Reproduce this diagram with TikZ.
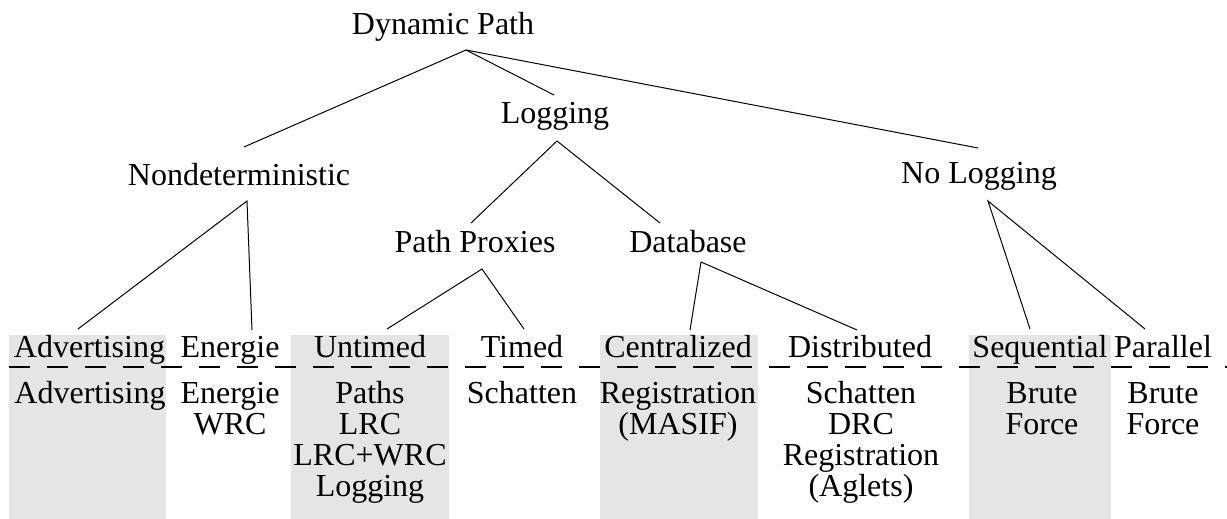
\documentclass[tikz,border=0pt]{standalone}
\usepackage{fontspec}
\setmainfont{Liberation Serif}
\newcommand\lnstrut{\vrule height 23pt depth 8pt width 0pt}
\tikzset{
  lbl/.style={font=\fontsize{32}{31}\selectfont, inner sep=0pt, anchor=base},
  col/.style={font=\fontsize{32}{31}\selectfont, inner sep=0pt, anchor=north, align=center},
  edge/.style={line width=1pt},
  shade/.style={fill=black!10, draw=none},
  sep/.style={line width=2.5pt, dash pattern=on 21pt off 17pt},
}
\begin{document}
\begin{tikzpicture}[x=1pt,y=-1pt]
\useasboundingbox (0,0) rectangle (1227,519);
% shaded columns
\fill[shade] (9,335) rectangle (166,519);
\fill[shade] (291,335) rectangle (449,519);
\fill[shade] (600,335) rectangle (758,519);
\fill[shade] (969,335) rectangle (1111,519);
% dashed separator
\coordinate (sepL) at (9,367);
\coordinate (sepR) at (1227,367);
\draw[sep] (sepL) -- (sepR);
% tree labels
\node[lbl] (dp) at (443,35) {Dynamic Path};
\node[lbl] (log) at (555,123) {Logging};
\node[lbl] (nd) at (239,185) {Nondeterministic};
\node[lbl] (nl) at (979,183) {No Logging};
\node[lbl] (pp) at (475,252) {Path Proxies};
\node[lbl] (db) at (688,252) {Database};
% leaf labels
\node[lbl] (adv) at (89.5,357) {Advertising};
\node[lbl] (en) at (230,357) {Energie};
\node[lbl] (unt) at (370,357) {Untimed};
\node[lbl] (tim) at (522,357) {Timed};
\node[lbl] (cen) at (678,357) {Centralized};
\node[lbl] (dis) at (860,357) {Distributed};
\node[lbl] (seq) at (1040,357) {Sequential};
\node[lbl] (par) at (1163,357) {Parallel};
% systems
\node[col] (s1) at (90,380) {\lnstrut Advertising};
\node[col] (s2) at (230,380) {\lnstrut Energie\\\lnstrut WRC};
\node[col] (s3) at (370,380) {\lnstrut Paths\\\lnstrut LRC\\\lnstrut LRC+WRC\\\lnstrut Logging};
\node[col] (s4) at (522,380) {\lnstrut Schatten};
\node[col] (s5) at (678,380) {\lnstrut Registration\\\lnstrut (MASIF)};
\node[col] (s6) at (861,380) {\lnstrut Schatten\\\lnstrut DRC\\\lnstrut Registration\\\lnstrut (Aglets)};
\node[col] (s7) at (1042,380) {\lnstrut Brute\\\lnstrut Force};
\node[col] (s8) at (1163,380) {\lnstrut Brute\\\lnstrut Force};
% connector points
\coordinate (dp-o) at (466,50);
\coordinate (nd-i) at (244,147);
\coordinate (log-i) at (554,95);
\coordinate (nl-i) at (978,148);
\coordinate (log-o) at (557,141);
\coordinate (pp-i) at (471,223);
\coordinate (db-i) at (660,223);
\coordinate (nd-o) at (247,201);
\coordinate (adv-i) at (78,329);
\coordinate (en-i) at (252,330);
\coordinate (pp-o) at (482,269);
\coordinate (unt-i) at (387,329);
\coordinate (tim-i) at (524,329);
\coordinate (db-o) at (701,262);
\coordinate (cen-i) at (690,330);
\coordinate (dis-i) at (857,330);
\coordinate (nl-o) at (988,201);
\coordinate (seq-i) at (1030,329);
\coordinate (par-i) at (1145,329);
% connectors
\draw[edge] (nd-i) -- (dp-o) -- (log-i);
\draw[edge] (dp-o) -- (nl-i);
\draw[edge] (pp-i) -- (log-o) -- (db-i);
\draw[edge] (adv-i) -- (nd-o) -- (en-i);
\draw[edge] (unt-i) -- (pp-o) -- (tim-i);
\draw[edge] (cen-i) -- (db-o) -- (dis-i);
\draw[edge] (seq-i) -- (nl-o) -- (par-i);
\end{tikzpicture}
\end{document}
